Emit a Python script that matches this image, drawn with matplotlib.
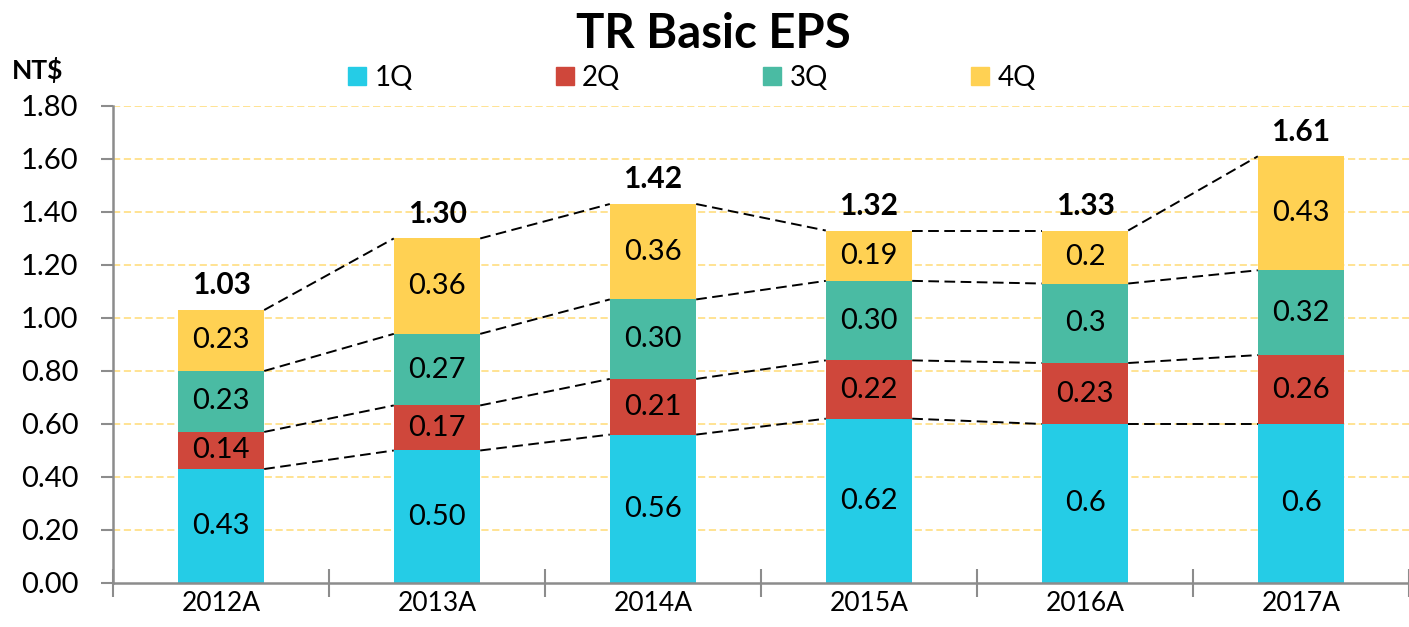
import matplotlib.pyplot as plt
import numpy as np
from matplotlib.patches import Patch

plt.rcParams['font.family'] = ['Lato', 'DejaVu Sans']

# --- data ---
years = ['2012A', '2013A', '2014A', '2015A', '2016A', '2017A']
q1 = [0.43, 0.50, 0.56, 0.62, 0.60, 0.60]
q2 = [0.14, 0.17, 0.21, 0.22, 0.23, 0.26]
q3 = [0.23, 0.27, 0.30, 0.30, 0.30, 0.32]
q4 = [0.23, 0.36, 0.36, 0.19, 0.20, 0.43]
q1_lbl = ['0.43', '0.50', '0.56', '0.62', '0.6', '0.6']
q2_lbl = ['0.14', '0.17', '0.21', '0.22', '0.23', '0.26']
q3_lbl = ['0.23', '0.27', '0.30', '0.30', '0.3', '0.32']
q4_lbl = ['0.23', '0.36', '0.36', '0.19', '0.2', '0.43']
total_lbl = ['1.03', '1.30', '1.42', '1.32', '1.33', '1.61']

quarters = ['1Q', '2Q', '3Q', '4Q']
colors = ['#25CCE6', '#CF473B', '#4ABBA3', '#FFD153']

series = [q1, q2, q3, q4]
labels = [q1_lbl, q2_lbl, q3_lbl, q4_lbl]

fig = plt.figure(figsize=(14.09, 6.27), dpi=100)
ax = fig.add_axes([0.0802, 0.0702, 0.9198, 0.7608])

x = np.arange(len(years))
width = 0.40
bottom = np.zeros(len(years))
levels = []
for vals, lbls, c in zip(series, labels, colors):
    vals = np.array(vals)
    ax.bar(x, vals, width, bottom=bottom, color=c, zorder=2)
    for xi, b, v, t in zip(x, bottom, vals, lbls):
        ax.text(xi, b + v / 2, t, ha='center', va='center', fontsize=21, zorder=4)
    bottom = bottom + vals
    levels.append(bottom.copy())

# dashed connectors between bar edges
for lev in levels:
    for i in range(len(years) - 1):
        ax.plot([x[i] + width / 2, x[i + 1] - width / 2], [lev[i], lev[i + 1]],
                color='black', ls=(0, (5.5, 2.8)), lw=1.4, zorder=3)

for xi, tot, t in zip(x, bottom, total_lbl):
    ax.text(xi, tot + 0.04, t, ha='center', va='bottom', fontsize=21.5,
            fontweight='bold', zorder=4)

ax.set_xlim(-0.5, 5.5 - 24 / 220)
ax.set_ylim(0, 1.8)
ax.set_yticks(np.arange(0, 1.81, 0.2))
ax.set_yticklabels([f'{v:.2f}' for v in np.arange(0, 1.81, 0.2)], fontsize=21)

ax.set_xticks(np.arange(-0.5, 6, 1))
ax.set_xticklabels([])
ax.set_xticks(x, minor=True)
ax.set_xticklabels(years, minor=True, fontsize=19)
ax.tick_params(axis='x', which='minor', length=0, pad=6)
ax.tick_params(axis='x', which='major', length=20, direction='inout',
               color='#8C8C8C', width=1.5)
ax.tick_params(axis='y', length=9, color='#8C8C8C', width=1.5, pad=16)

for lv in np.arange(0.2, 1.81, 0.2):
    ax.axhline(lv, color='#FFE08A', ls=(0, (4, 2)), lw=1.3, zorder=1)

for s in ['top', 'right']:
    ax.spines[s].set_visible(False)
for s in ['left', 'bottom']:
    ax.spines[s].set_color('#8C8C8C')
    ax.spines[s].set_linewidth(1.8)

fig.text(0.506, 0.945, 'TR Basic EPS', ha='center', va='center', fontsize=34,
         fontweight='bold')
fig.text(0.027, 0.888, 'NT$', ha='center', va='center', fontsize=19,
         fontweight='bold')

handles = [Patch(color=c, label=q) for c, q in zip(colors, quarters)]
fig.legend(handles=handles, ncol=4, loc='center', bbox_to_anchor=(0.491, 0.876),
           frameon=False, fontsize=20, handlelength=0.65, handleheight=0.65,
           handletextpad=0.3, columnspacing=5.15)

fig.savefig('out.png', dpi=100)
